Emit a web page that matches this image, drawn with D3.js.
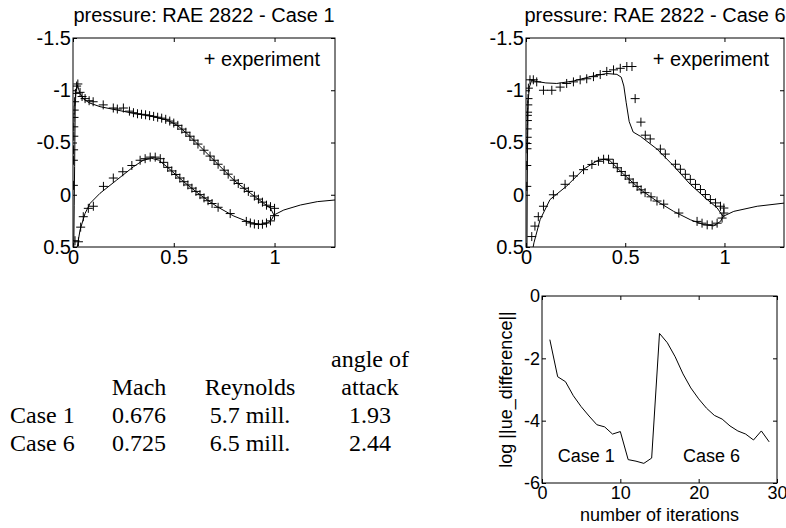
<!DOCTYPE html>
<html>
<head>
<meta charset="utf-8">
<script src="https://cdn.jsdelivr.net/npm/d3@7"></script>
<style>
  body { margin: 0; background: #fff; }
  svg { display: block; }
  .ax text { font-family: "Liberation Sans", Arial, sans-serif; fill: #000; }
  .tbl { font-family: "Liberation Serif", "Times New Roman", serif; font-size: 24px; fill: #000; }
</style>
</head>
<body>
<div id="chart"></div>
<script>
// pressure distributions, Cp against x/c
const case1Upper = [[0.004, 0.5], [0.006, 0.1], [0.008, -0.27], [0.011, -0.84], [0.015, -1.0], [0.021, -1.05], [0.035, -0.97], [0.051, -0.92], [0.08, -0.88], [0.134, -0.843], [0.217, -0.811], [0.3, -0.779], [0.383, -0.753], [0.466, -0.715], [0.516, -0.667], [0.565, -0.587], [0.632, -0.459], [0.715, -0.3], [0.798, -0.14], [0.881, -0.013], [0.947, 0.083], [0.98, 0.13], [0.997, 0.194]];
const case1Lower = [[0.021, 0.5], [0.035, 0.337], [0.06, 0.178], [0.085, 0.082], [0.134, -0.014], [0.217, -0.141], [0.3, -0.268], [0.35, -0.332], [0.391, -0.348], [0.424, -0.332], [0.466, -0.268], [0.549, -0.125], [0.632, 0.003], [0.715, 0.114], [0.798, 0.204], [0.881, 0.268], [0.93, 0.283], [0.965, 0.27], [0.985, 0.24], [0.997, 0.194]];
const case1Wake = [[0.997, 0.194], [1.046, 0.146], [1.129, 0.098], [1.212, 0.066], [1.3, 0.05]];
const case1ExpUpper = [[0.002, -0.09], [0.002, -0.33], [0.003, -0.43], [0.004, -0.56], [0.004, -0.65], [0.005, -0.74], [0.006, -0.81], [0.008, -0.89], [0.012, -0.97], [0.018, -1.04], [0.024, -1.06], [0.035, -0.98], [0.045, -0.94], [0.06, -0.92], [0.08, -0.9], [0.1, -0.89], [0.15, -0.86], [0.2, -0.83], [0.22, -0.82], [0.25, -0.83], [0.28, -0.8], [0.3, -0.785], [0.32, -0.775], [0.34, -0.77], [0.36, -0.765], [0.38, -0.757], [0.4, -0.75], [0.42, -0.742], [0.44, -0.733], [0.46, -0.722], [0.48, -0.705], [0.5, -0.686], [0.52, -0.664], [0.54, -0.628], [0.56, -0.598], [0.58, -0.56], [0.6, -0.522], [0.62, -0.485], [0.65, -0.426], [0.68, -0.37], [0.7, -0.33], [0.72, -0.292], [0.75, -0.235], [0.77, -0.197], [0.8, -0.139], [0.82, -0.108], [0.85, -0.062], [0.87, -0.032], [0.9, 0.013], [0.92, 0.042], [0.94, 0.071], [0.96, 0.1], [0.98, 0.114], [1.0, 0.13]];
const case1ExpLower = [[0.01, 0.44], [0.027, 0.45], [0.038, 0.31], [0.051, 0.21], [0.076, 0.13], [0.101, 0.11], [0.151, -0.08], [0.2, -0.16], [0.247, -0.22], [0.292, -0.28], [0.333, -0.33], [0.358, -0.345], [0.383, -0.36], [0.408, -0.36], [0.433, -0.345], [0.45, -0.31], [0.47, -0.262], [0.49, -0.228], [0.51, -0.194], [0.53, -0.16], [0.55, -0.125], [0.57, -0.094], [0.59, -0.063], [0.61, -0.032], [0.63, -0.001], [0.65, 0.03], [0.67, 0.057], [0.69, 0.084], [0.72, 0.12], [0.78, 0.18], [0.86, 0.255], [0.88, 0.27], [0.9, 0.28], [0.92, 0.285], [0.94, 0.282], [0.96, 0.27], [0.98, 0.25], [1.0, 0.2]];

const case6Upper = [[0.005, 0.5], [0.006, 0.0], [0.008, -0.5], [0.011, -0.9], [0.017, -1.03], [0.029, -1.097], [0.05, -1.085], [0.1, -1.07], [0.155, -1.065], [0.239, -1.088], [0.323, -1.13], [0.407, -1.16], [0.458, -1.152], [0.48, -1.125], [0.493, -1.04], [0.505, -0.88], [0.52, -0.7], [0.54, -0.6], [0.576, -0.56], [0.66, -0.437], [0.744, -0.276], [0.828, -0.099], [0.913, 0.046], [0.963, 0.126], [0.993, 0.207]];
const case6Lower = [[0.036, 0.5], [0.04, 0.46], [0.071, 0.239], [0.121, 0.046], [0.205, -0.083], [0.29, -0.244], [0.357, -0.324], [0.391, -0.34], [0.424, -0.324], [0.492, -0.196], [0.576, -0.05], [0.66, 0.062], [0.744, 0.159], [0.828, 0.239], [0.896, 0.287], [0.946, 0.297], [0.98, 0.255], [0.993, 0.207]];
const case6Wake = [[0.993, 0.207], [1.047, 0.159], [1.165, 0.11], [1.3, 0.08]];
const case6ExpUpper = [[0.004, -0.08], [0.004, -0.28], [0.005, -0.44], [0.005, -0.49], [0.006, -0.55], [0.006, -0.63], [0.007, -0.71], [0.007, -0.76], [0.008, -0.79], [0.009, -0.86], [0.01, -0.92], [0.012, -1.02], [0.02, -1.1], [0.037, -1.1], [0.054, -1.08], [0.088, -1.0], [0.13, -1.0], [0.172, -1.03], [0.205, -1.065], [0.239, -1.08], [0.273, -1.1], [0.306, -1.11], [0.34, -1.13], [0.374, -1.15], [0.407, -1.18], [0.441, -1.195], [0.475, -1.21], [0.508, -1.227], [0.534, -1.227], [0.55, -0.92], [0.579, -0.695], [0.601, -0.57], [0.626, -0.534], [0.677, -0.437], [0.702, -0.389], [0.753, -0.292], [0.778, -0.244], [0.803, -0.196], [0.828, -0.147], [0.854, -0.099], [0.879, -0.05], [0.904, -0.002], [0.929, 0.046], [0.955, 0.078], [0.98, 0.11], [0.997, 0.127]];
const case6ExpLower = [[0.029, 0.4], [0.045, 0.3], [0.062, 0.21], [0.088, 0.11], [0.138, 0.0], [0.197, -0.1], [0.239, -0.18], [0.29, -0.24], [0.332, -0.29], [0.365, -0.32], [0.391, -0.34], [0.416, -0.34], [0.44, -0.3], [0.46, -0.258], [0.48, -0.222], [0.5, -0.185], [0.52, -0.15], [0.54, -0.115], [0.56, -0.08], [0.58, -0.047], [0.6, -0.02], [0.63, 0.02], [0.66, 0.06], [0.694, 0.09], [0.77, 0.175], [0.862, 0.255], [0.887, 0.272], [0.913, 0.288], [0.938, 0.29], [0.963, 0.272], [0.988, 0.223], [0.997, 0.175]];

// convergence history
const iterations = [1, 2, 3, 4, 5, 6, 7, 8, 9, 10, 11, 12, 13, 14, 15, 16, 17, 18, 19, 20, 21, 22, 23, 24, 25, 26, 27, 28, 29];
const logDiff = [-1.4, -2.59, -2.75, -3.2, -3.55, -3.85, -4.13, -4.2, -4.43, -4.35, -5.25, -5.3, -5.37, -5.2, -1.2, -1.5, -1.95, -2.5, -2.95, -3.3, -3.6, -3.83, -3.95, -4.17, -4.33, -4.43, -4.62, -4.33, -4.68];

// tick values
const xTicksCp = [0, 0.5, 1];
const yTicksCp = [-1.5, -1, -0.5, 0, 0.5];
const xTicksIter = [0, 10, 20, 30];
const yTicksIter = [0, -2, -4, -6];

// table of flow conditions
const tableHead1 = ["", "", "", "angle of"];
const tableHead2 = ["", "Mach", "Reynolds", "attack"];
const caseNames = ["Case 1", "Case 6"];
const machNumbers = ["0.676", "0.725"];
const reynoldsNumbers = ["5.7 mill.", "6.5 mill."];
const angles = ["1.93", "2.44"];

const svg = d3.select("#chart").append("svg").attr("width", 786).attr("height", 528);

const fmt = (d) => String(d);

//draws a boxed matlab style axes with inward ticks
const frame = (g, x, y, xt, yt, fs) => {
  const [x0, x1] = x.range();
  const [y0, y1] = y.range();
  const tick = 4;
  g.append("g").attr("transform", `translate(0,${y0})`)
    .call(d3.axisBottom(x).tickValues(xt).tickSize(-tick).tickPadding(3).tickFormat(fmt));
  g.append("g").attr("transform", `translate(0,${y1})`)
    .call(d3.axisTop(x).tickValues(xt).tickSize(-tick).tickFormat(""));
  g.append("g").attr("transform", `translate(${x0},0)`)
    .call(d3.axisLeft(y).tickValues(yt).tickSize(-tick).tickPadding(2).tickFormat(fmt));
  g.append("g").attr("transform", `translate(${x1},0)`)
    .call(d3.axisRight(y).tickValues(yt).tickSize(-tick).tickFormat(""));
  g.selectAll(".domain").remove();
  g.selectAll(".tick line").attr("stroke", "#000");
  g.selectAll(".tick text").attr("font-size", fs);
  g.append("rect")
    .attr("x", x0).attr("y", y1).attr("width", x1 - x0).attr("height", y0 - y1)
    .attr("fill", "none").attr("stroke", "#000").attr("stroke-width", 1);
};

const pressurePlot = (id, left, right, title, lines, exps) => {
  const g = svg.append("g").attr("class", "ax");
  const x = d3.scaleLinear().domain([0, 1.3]).range([left, right]);
  const y = d3.scaleLinear().domain([0.5, -1.5]).range([247, 38]);
  frame(g, x, y, xTicksCp, yTicksCp, 20);

  g.append("clipPath").attr("id", id).append("rect")
    .attr("x", left).attr("y", 38).attr("width", right - left).attr("height", 209);

  const line = d3.line().x((d) => x(d[0])).y((d) => y(d[1])).curve(d3.curveMonotoneX);
  const plot = g.append("g").attr("clip-path", `url(#${id})`);
  lines.forEach((l) => {
    plot.append("path").datum(l).attr("d", d3.line().x((d) => x(d[0])).y((d) => y(d[1])))
      .attr("fill", "none").attr("stroke", "#000").attr("stroke-width", 1);
  });
  exps.forEach((e) => {
    plot.selectAll(null).data(e).enter().append("path")
      .attr("transform", (d) => `translate(${x(d[0])},${y(d[1])})`)
      .attr("d", "M-4.5,0H4.5M0,-4.5V4.5")
      .attr("stroke", "#000").attr("stroke-width", 1);
  });

  g.append("text").attr("x", (left + right) / 2).attr("y", 22)
    .attr("text-anchor", "middle").attr("font-size", 20).text(title);
  g.append("text").attr("x", right - 15).attr("y", 66)
    .attr("text-anchor", "end").attr("font-size", 20).text("+ experiment");
};

pressurePlot("clip1", 73, 335, "pressure: RAE 2822 - Case 1",
  [case1Upper, case1Lower, case1Wake], [case1ExpUpper, case1ExpLower]);
pressurePlot("clip6", 526, 784, "pressure: RAE 2822 - Case 6",
  [case6Upper, case6Lower, case6Wake], [case6ExpUpper, case6ExpLower]);

// convergence plot
{
  const g = svg.append("g").attr("class", "ax");
  const x = d3.scaleLinear().domain([0, 30]).range([542, 777]);
  const y = d3.scaleLinear().domain([-6, 0]).range([483, 296]);
  frame(g, x, y, xTicksIter, yTicksIter, 18);
  g.append("path").datum(iterations.map((it, i) => [it, logDiff[i]]))
    .attr("d", d3.line().x((d) => x(d[0])).y((d) => y(d[1])))
    .attr("fill", "none").attr("stroke", "#000").attr("stroke-width", 1);
  g.append("text").attr("x", x(2)).attr("y", y(-5.33)).attr("font-size", 18).text("Case 1");
  g.append("text").attr("x", x(18)).attr("y", y(-5.33)).attr("font-size", 18).text("Case 6");
  g.append("text").attr("x", (542 + 777) / 2).attr("y", 521)
    .attr("text-anchor", "middle").attr("font-size", 18).text("number of iterations");
  g.append("text").attr("transform", `translate(512,${(296 + 483) / 2}) rotate(-90)`)
    .attr("text-anchor", "middle").attr("font-size", 18).text("log ||ue_difference||");
}

// table
{
  const cols = [10, 139, 250, 370];
  const t = svg.append("g").attr("class", "tbl");
  const row = (vals, yb) => {
    vals.forEach((v, i) => {
      if (!v) return;
      t.append("text").attr("x", cols[i]).attr("y", yb)
        .attr("text-anchor", i === 0 ? "start" : "middle").text(v);
    });
  };
  row(tableHead1, 367);
  row(tableHead2, 395);
  caseNames.forEach((c, i) => {
    row([c, machNumbers[i], reynoldsNumbers[i], angles[i]], 423 + i * 27.5);
  });
}
</script>
</body>
</html>
